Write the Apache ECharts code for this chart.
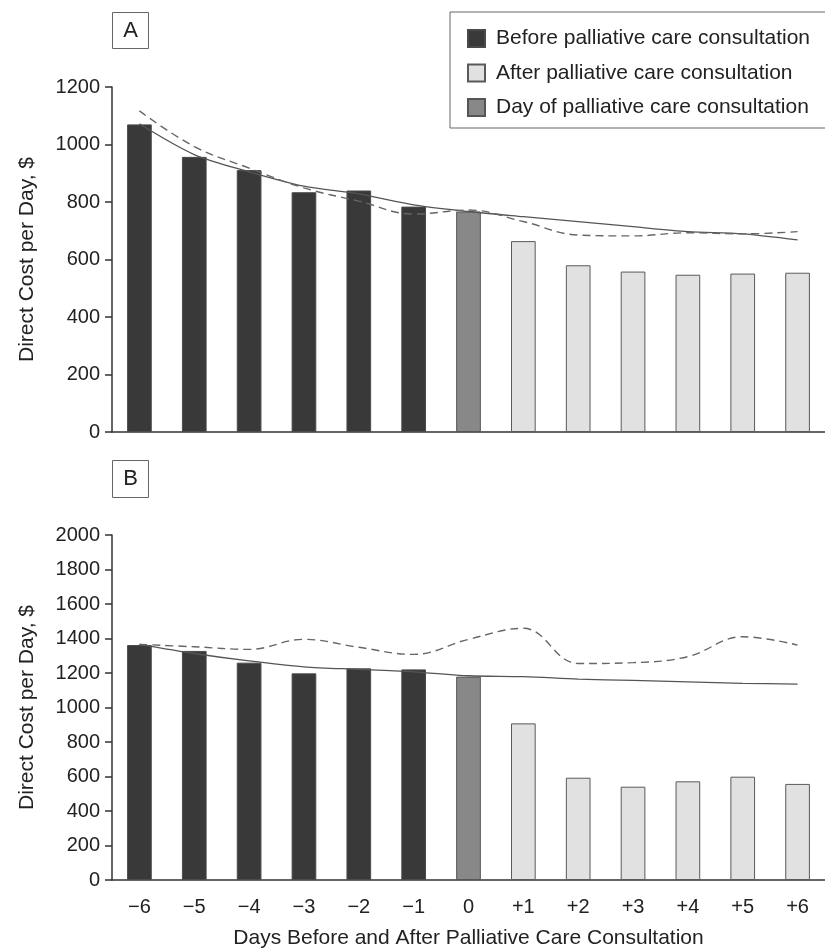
<!DOCTYPE html>
<html>
<head>
<meta charset="utf-8">
<script src="https://cdn.jsdelivr.net/npm/echarts@6/dist/echarts.min.js"></script>
<style>
html,body{margin:0;padding:0;background:#fff;}
#chart{width:825px;height:950px;}
</style>
</head>
<body>
<div id="chart"></div>
<script>
const categories = ['\u22126','\u22125','\u22124','\u22123','\u22122','\u22121','0','+1','+2','+3','+4','+5','+6'];
const phase = ['before','before','before','before','before','before','day','after','after','after','after','after','after'];
const costA = [1070, 957, 911, 834, 840, 784, 767, 664, 580, 558, 547, 551, 554];
const trendA = [1072, 965, 905, 855, 828, 790, 767, 749, 732, 714, 697, 689, 668];
const dashedA = [1117, 993, 918, 849, 803, 758, 772, 732, 685, 682, 693, 689, 697];
const costB = [1362, 1328, 1260, 1198, 1227, 1221, 1179, 908, 593, 541, 572, 599, 557];
const trendB = [1366, 1313, 1270, 1236, 1221, 1207, 1184, 1179, 1165, 1157, 1149, 1140, 1136];
const dashedB = [1366, 1352, 1337, 1395, 1349, 1308, 1395, 1459, 1255, 1260, 1295, 1410, 1362];
const yTicksA = {min: 0, max: 1200, interval: 200};
const yTicksB = {min: 0, max: 2000, interval: 200};

const FONT = '"Liberation Sans Narrow", "Liberation Sans", Arial, sans-serif';
const names = {before: 'Before palliative care consultation', after: 'After palliative care consultation', day: 'Day of palliative care consultation'};
const styles = {
  before: {color: '#393939', borderColor: '#4a4a4a', borderWidth: 1},
  after: {color: '#e1e1e1', borderColor: '#5a5a5a', borderWidth: 1},
  day: {color: '#888888', borderColor: '#555555', borderWidth: 1}
};

function pick(arr, p) { return arr.map((v, i) => phase[i] === p ? v : null); }

function panelSeries(idx, cost, trend, dashed) {
  const s = [];
  ['before', 'after', 'day'].forEach(p => {
    s.push({
      name: names[p], type: 'bar', xAxisIndex: idx, yAxisIndex: idx,
      stack: 'p' + idx, barWidth: '45%', data: pick(cost, p),
      itemStyle: styles[p], z: 2
    });
  });
  s.push({type: 'line', xAxisIndex: idx, yAxisIndex: idx, data: trend, symbol: 'none',
    smooth: 0.3, lineStyle: {color: '#555', width: 1.3}, z: 3});
  s.push({type: 'line', xAxisIndex: idx, yAxisIndex: idx, data: dashed, symbol: 'none',
    smooth: 0.4, lineStyle: {color: '#666', width: 1.4, type: [8, 5]}, z: 3});
  return s;
}

function yAxis(idx, t) {
  return {
    type: 'value', gridIndex: idx, min: t.min, max: t.max, interval: t.interval,
    name: 'Direct Cost per Day, $', nameLocation: 'middle', nameGap: 74,
    nameTextStyle: {fontFamily: FONT, fontSize: 21, color: '#222'},
    axisLine: {show: true, lineStyle: {color: '#333', width: 1.5}},
    axisTick: {show: true, length: 7, lineStyle: {color: '#333', width: 1.5}},
    axisLabel: {fontFamily: FONT, fontSize: 20, color: '#222', margin: 12, formatter: v => String(v)},
    splitLine: {show: false}
  };
}

const chart = echarts.init(document.getElementById('chart'), null, {renderer: 'canvas'});
chart.setOption({
  animation: false,
  backgroundColor: '#fff',
  grid: [
    {left: 112, right: 0, top: 87, height: 345},
    {left: 112, right: 0, top: 535, height: 345}
  ],
  xAxis: [
    {type: 'category', gridIndex: 0, data: categories,
     axisLine: {lineStyle: {color: '#333', width: 1.5}}, axisTick: {show: false}, axisLabel: {show: false}},
    {type: 'category', gridIndex: 1, data: categories,
     name: 'Days Before and After Palliative Care Consultation', nameLocation: 'middle', nameGap: 48,
     nameTextStyle: {fontFamily: FONT, fontSize: 21, color: '#222'},
     axisLine: {lineStyle: {color: '#333', width: 1.5}}, axisTick: {show: false},
     axisLabel: {fontFamily: FONT, fontSize: 20, color: '#222', margin: 17}}
  ],
  yAxis: [yAxis(0, yTicksA), yAxis(1, yTicksB)],
  legend: {
    orient: 'vertical', left: 450, top: 12,
    data: [names.before, names.after, names.day],
    itemWidth: 17, itemHeight: 17, itemGap: 13.5,
    icon: 'rect',
    padding: [16, 40, 10, 17],
    borderColor: '#666', borderWidth: 1,
    textStyle: {fontFamily: FONT, fontSize: 21, lineHeight: 17, color: '#222', padding: [0, 0, 0, 6]},
    selectedMode: false
  },
  graphic: [
    {type: 'group', left: 112, top: 12, children: [
      {type: 'rect', shape: {x: 0, y: 0, width: 36, height: 36}, style: {fill: '#fff', stroke: '#666', lineWidth: 1}},
      {type: 'text', x: 18, y: 18, style: {text: 'A', fontFamily: FONT, fontSize: 22, fill: '#222', align: 'center', verticalAlign: 'middle'}}
    ]},
    {type: 'group', left: 112, top: 460, children: [
      {type: 'rect', shape: {x: 0, y: 0, width: 36, height: 37}, style: {fill: '#fff', stroke: '#666', lineWidth: 1}},
      {type: 'text', x: 18, y: 18.5, style: {text: 'B', fontFamily: FONT, fontSize: 22, fill: '#222', align: 'center', verticalAlign: 'middle'}}
    ]}
  ],
  series: [].concat(panelSeries(0, costA, trendA, dashedA), panelSeries(1, costB, trendB, dashedB))
});
</script>
</body>
</html>
